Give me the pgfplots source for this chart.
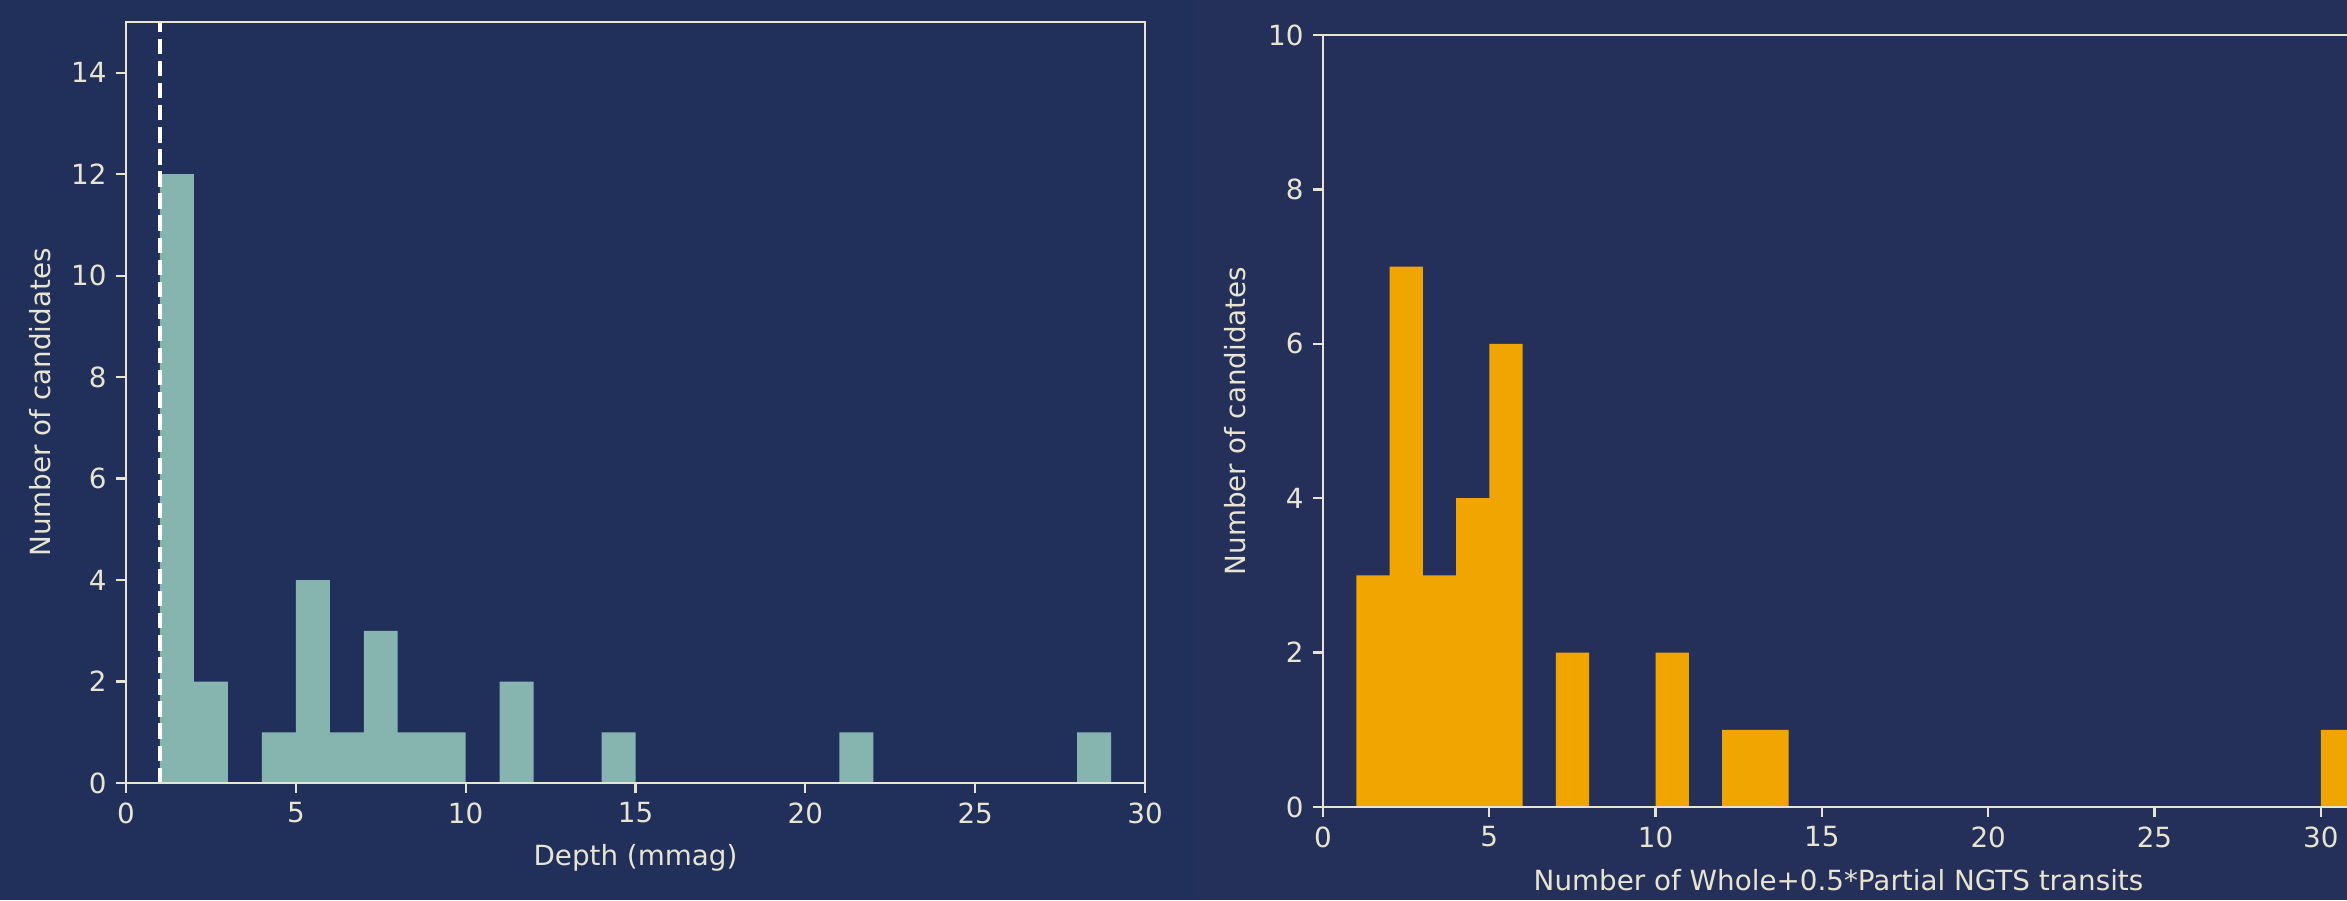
\documentclass[border=0pt]{standalone}
\usepackage{fontspec}
\setmainfont{DejaVu Sans}
\usepackage{pgfplots}
\pgfplotsset{compat=1.18}

\definecolor{bgL}{HTML}{21305B}
\definecolor{bgR}{HTML}{24305A}
\definecolor{ink}{HTML}{E8E4D0}
\definecolor{sage}{HTML}{86B4AE}
\definecolor{amber}{HTML}{F0A500}

\pgfplotsset{
  histstyle/.style={
    scale only axis,
    axis on top,
    axis line style={ink, line width=0.8pt},
    every tick/.style={ink, line width=0.8pt},
    major tick length=3.5pt,
    tick align=outside,
    xtick pos=bottom, ytick pos=left,
    tick label style={ink, font=\fontsize{10}{12}\selectfont},
    label style={ink, font=\fontsize{10}{12}\selectfont},
    /pgf/number format/assume math mode=true,
  }
}

\begin{document}
\begin{tikzpicture}
  % canvas: 1 px = 0.36pt
  \useasboundingbox (0,0) rectangle (844.92pt,324pt);
  \clip (0,0) rectangle (844.92pt,324pt);
  \fill[bgL] (0,0) rectangle (430.2pt,324pt);
  \fill[bgR] (430.2pt,0) rectangle (844.92pt,324pt);

  % transit depth histogram
  \begin{axis}[histstyle,
    at={(45.36pt,42.12pt)}, anchor=south west,
    width=366.84pt, height=273.96pt,
    xmin=0, xmax=30, ymin=0, ymax=15,
    xtick={0,5,...,30}, ytick={0,2,...,14},
    xlabel={Depth (mmag)},
    ylabel={Number of candidates},
    xlabel style={at={(axis description cs:0.5,-0.0986)}, anchor=center},
    ylabel style={at={(axis description cs:-0.0844,0.5)}, anchor=center},
  ]
    \addplot[ybar interval, fill=sage, draw=none] coordinates {
      (1,12) (2,2) (3,0) (4,1) (5,4) (6,1) (7,3) (8,1) (9,1) (10,0)
      (11,2) (12,0) (13,0) (14,1) (15,0) (16,0) (17,0) (18,0) (19,0) (20,0)
      (21,1) (22,0) (23,0) (24,0) (25,0) (26,0) (27,0) (28,1) (29,1)
    };
    \addplot[white, line width=1.5pt, dash pattern=on 5.55pt off 2.4pt]
      coordinates {(1,0) (1,15)};
  \end{axis}

  % number of observed transits histogram
  \begin{axis}[histstyle,
    at={(476.28pt,33.48pt)}, anchor=south west,
    width=371.16pt, height=277.92pt,
    xmin=0, xmax=31, ymin=0, ymax=10,
    xtick={0,5,...,30}, ytick={0,2,...,10},
    xlabel={Number of Whole+0.5*Partial NGTS transits},
    ylabel={Number of candidates},
    xlabel style={at={(axis description cs:0.5,-0.0946)}, anchor=center},
    ylabel style={at={(axis description cs:-0.0854,0.5)}, anchor=center},
  ]
    \addplot[ybar interval, fill=amber, draw=none] coordinates {
      (1,3) (2,7) (3,3) (4,4) (5,6) (6,0) (7,2) (8,0) (9,0) (10,2)
      (11,0) (12,1) (13,1) (14,0) (15,0) (16,0) (17,0) (18,0) (19,0) (20,0)
      (21,0) (22,0) (23,0) (24,0) (25,0) (26,0) (27,0) (28,0) (29,0)
      (30,1) (31,1)
    };
  \end{axis}
\end{tikzpicture}
\end{document}
